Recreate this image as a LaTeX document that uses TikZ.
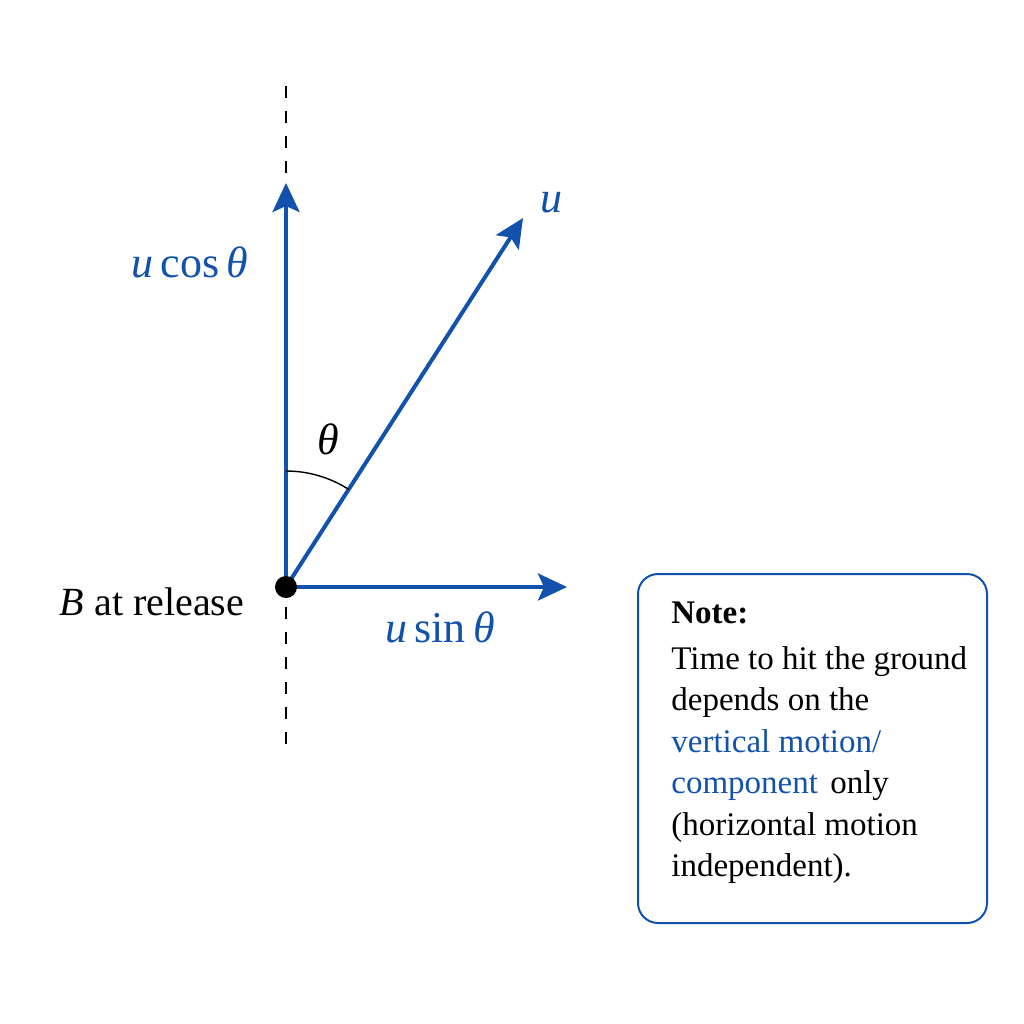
\documentclass[tikz,border=0pt]{standalone}
\usepackage{fontspec}
\setmainfont{Liberation Serif}
\usetikzlibrary{arrows.meta,calc}
\definecolor{vblue}{RGB}{18,82,172}
\begin{document}
\begin{tikzpicture}[x=0.5pt,y=-0.5pt,
  vec/.style={draw=vblue,line width=2pt,-{Stealth[length=14.5pt,width=13.5pt,inset=3pt]}},
  guide/.style={draw=black,line width=1pt,dash pattern=on 6pt off 6.5pt},
  vlabel/.style={text=vblue,font=\fontsize{22}{26}\selectfont,inner sep=0pt},
  plainlabel/.style={text=black,inner sep=0pt},
  notebox/.style={draw=vblue,line width=1pt,rounded corners=10pt,minimum width=174.5pt,minimum height=174.5pt,inner sep=0pt,anchor=north west}]
\useasboundingbox (0,0) rectangle (1024,1024);
% points
\coordinate (B) at (286,587);
\coordinate (topV) at (286,183);
\coordinate (tipU) at (523,218);
\coordinate (tipH) at (567,587);
\coordinate (dashTopA) at (286,86);
\coordinate (dashTopB) at (286,176);
\coordinate (dashBotA) at (286,607);
\coordinate (dashBotB) at (286,746);
% dashed vertical guide
\draw[guide] (dashTopA) -- (dashTopB);
\draw[guide] (dashBotA) -- (dashBotB);
% vectors
\draw[vec] (B) -- (topV);
\draw[vec] (B) -- (tipU);
\draw[vec] (B) -- (tipH);
% angle arc
\draw[black,line width=0.7pt] ($(B)+(0,-116)$) arc[start angle=-90,end angle=-57.3,radius=116];
% dot
\fill[black] (B) circle[radius=11];
% labels
\node[vlabel] (lu) at (551,203) {\textit{u}};
\node[vlabel] (lcos) at (190,262) {\textit{u}\,cos\,\textit{θ}};
\node[vlabel] (lsin) at (440,627) {\textit{u}\,sin\,\textit{θ}};
\node[plainlabel,font=\fontsize{22}{26}\selectfont] (lth) at (328,439) {\textit{θ}};
\node[plainlabel,font=\fontsize{20}{24}\selectfont] (lB) at (152,602) {\textit{B} at release};
% note
\node[notebox] (box) at (637,573) {};
\node[anchor=north west,inner sep=0pt,align=left,font=\fontsize{16.5}{20.75}\selectfont] (note) at (671,601)
 {\textbf{Note:}\\[2.4pt]
  Time to hit the ground\\
  depends on the\\
  \textcolor{vblue}{vertical motion/}\\
  \textcolor{vblue}{component}\hspace{2pt} only\\
  (horizontal motion\\
  independent).};
\end{tikzpicture}
\end{document}
